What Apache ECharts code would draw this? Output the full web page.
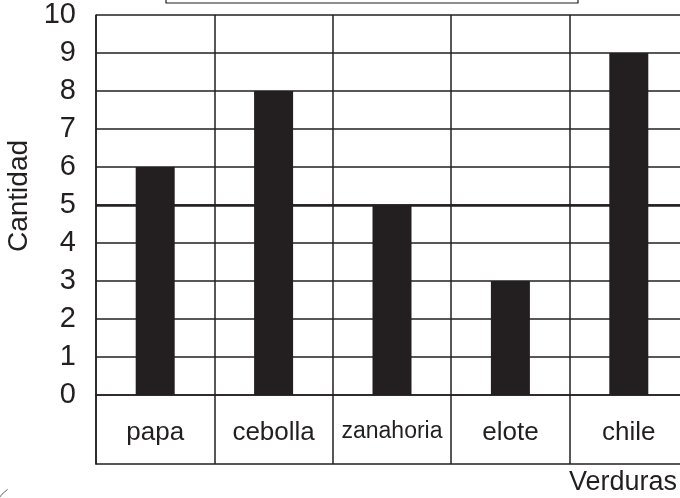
<!DOCTYPE html>
<html>
<head>
<meta charset="utf-8">
<script src="https://cdn.jsdelivr.net/npm/echarts@6/dist/echarts.min.js"></script>
<style>
html,body{margin:0;padding:0;background:#fff;}
#chart{width:680px;height:498px;}
</style>
</head>
<body>
<div id="chart"></div>
<script>
const categories = ['papa', 'cebolla', 'zanahoria', 'elote', 'chile'];
const cantidad = [6, 8, 5, 3, 9];
const yTicks = [0, 1, 2, 3, 4, 5, 6, 7, 8, 9, 10];
const xTitle = 'Verduras';
const yTitle = 'Cantidad';

const ink = '#231f20';
const font = 'Liberation Sans, Arial, sans-serif';

const chart = echarts.init(document.getElementById('chart'), null, {renderer: 'canvas'});
chart.setOption({
  animation: false,
  backgroundColor: '#fff',
  grid: [
    {left: 96, top: 15, width: 592, height: 380, containLabel: false, outerBoundsMode: 'none'},
    {left: 96, top: 395, width: 592, height: 69, containLabel: false, outerBoundsMode: 'none'}
  ],
  xAxis: [
    {
      type: 'category', gridIndex: 0, data: categories,
      axisTick: {show: false},
      axisLine: {show: true, lineStyle: {color: ink, width: 1.5}},
      splitLine: {show: true, interval: 0, lineStyle: {color: ink, width: 1.5}},
      axisLabel: {show: true, interval: 0, margin: 25, color: ink, fontFamily: font, fontSize: 26,
        formatter: v => v === 'zanahoria' ? '{n|' + v + '}' : v,
        rich: {n: {fontSize: 23, fontFamily: font, color: ink}}}
    },
    {
      type: 'category', gridIndex: 1, data: categories,
      axisTick: {show: false},
      axisLabel: {show: false},
      axisLine: {show: true, lineStyle: {color: ink, width: 1.5}},
      splitLine: {show: true, interval: 0, lineStyle: {color: ink, width: 1.5}},
      name: xTitle, nameLocation: 'end', nameGap: -11,
      nameTextStyle: {color: ink, fontFamily: font, fontSize: 27, align: 'right', verticalAlign: 'top', padding: [5, 0, 0, 0]}
    }
  ],
  yAxis: [
    {
      type: 'value', gridIndex: 0, min: yTicks[0], max: yTicks[yTicks.length - 1], interval: 1,
      axisTick: {show: false},
      axisLine: {show: true, lineStyle: {color: ink, width: 1.5}},
      splitLine: {show: true, lineStyle: {color: ink, width: 1.5}},
      axisLabel: {margin: 20, color: ink, fontFamily: font, fontSize: 29},
      name: yTitle, nameLocation: 'middle', nameRotate: 90, nameGap: 55,
      nameTextStyle: {color: ink, fontFamily: font, fontSize: 28, padding: [0, 0, 0, 18]}
    },
    {
      type: 'value', gridIndex: 1, min: 0, max: 1,
      axisTick: {show: false}, axisLabel: {show: false}, splitLine: {show: false},
      axisLine: {show: true, lineStyle: {color: ink, width: 1.5}}
    }
  ],
  graphic: [
    {type: 'rect', shape: {x: 166, y: -20, width: 412, height: 23}, style: {fill: 'none', stroke: ink, lineWidth: 1.2}},
    {type: 'arc', shape: {cx: 30, cy: 520, r: 38, startAngle: Math.PI * 1.05, endAngle: Math.PI * 1.3}, style: {fill: 'none', stroke: '#666', lineWidth: 1}}
  ],
  series: [{
    type: 'bar', xAxisIndex: 0, yAxisIndex: 0, data: cantidad, barWidth: 39,
    itemStyle: {color: ink},
    markLine: {
      silent: true, symbol: 'none', label: {show: false},
      lineStyle: {color: ink, width: 2.5, type: 'solid'},
      data: [{yAxis: 5}]
    }
  }]
});
</script>
</body>
</html>
